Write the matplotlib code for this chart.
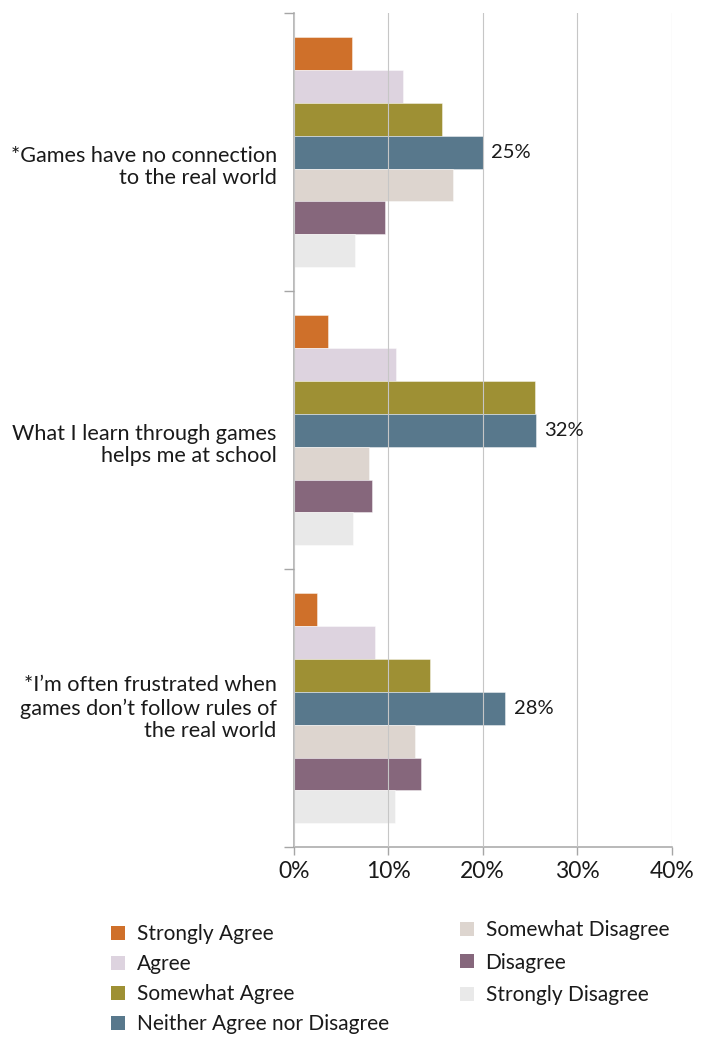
import numpy as np
import matplotlib
matplotlib.use("Agg")
import matplotlib.pyplot as plt
from matplotlib.patches import Patch

# ---- data -------------------------------------------------------------
statements = [
    "*Games have no connection\nto the real world",
    "What I learn through games\nhelps me at school",
    "*I\u2019m often frustrated when\ngames don\u2019t follow rules of\nthe real world",
]
series_names = [
    "Strongly Agree",
    "Agree",
    "Somewhat Agree",
    "Neither Agree nor Disagree",
    "Somewhat Disagree",
    "Disagree",
    "Strongly Disagree",
]
strongly_agree = [7.7, 4.6, 3.1]
agree = [14.4, 13.5, 10.8]
somewhat_agree = [19.6, 31.9, 18.0]
neither = [25, 32, 28]
somewhat_disagree = [21.1, 9.9, 16.1]
disagree = [12.1, 10.4, 16.9]
strongly_disagree = [8.1, 7.9, 13.4]
tick_values = [0, 10, 20, 30, 40]

series_values = [strongly_agree, agree, somewhat_agree, neither,
                 somewhat_disagree, disagree, strongly_disagree]
colors = ["#CF702A", "#DDD3DF", "#9E9034", "#58788C",
          "#DDD5CF", "#86677C", "#E9E9E9"]
labelled_series = 3  # the "Neither" bars carry value labels

# ---- style ------------------------------------------------------------
plt.rcParams["font.family"] = ["Lato", "DejaVu Sans"]
text_color = "#1a1a1a"
spine_color = "#a6a6a6"
grid_color = "#c6c6c6"

fig = plt.figure(figsize=(7.07, 10.38), dpi=100)
ax = fig.add_axes([0.4154, 0.1837, 0.5347, 0.8035])

n_series = len(series_values)
bar_h = 0.118
y_pos = np.arange(len(statements))
x_span = 50

for i, (vals, col) in enumerate(zip(series_values, colors)):
    ys = y_pos + (i - (n_series - 1) / 2) * bar_h
    bars = ax.barh(ys, vals, height=bar_h, color=col,
                   edgecolor=(1, 1, 1, 0.6), linewidth=0.5, zorder=1)
    if i == labelled_series:
        for rect, v in zip(bars, vals):
            ax.annotate(f"{v:g}%",
                        xy=(rect.get_width(), rect.get_y() + rect.get_height() / 2),
                        xytext=(6.3, 0), textcoords="offset points",
                        ha="left", va="center", fontsize=14.5,
                        color=text_color)

ax.set_xlim(0, x_span)
ax.set_ylim(len(statements) - 0.5, -0.5)

# x axis: evenly spaced ticks across the span
ax.set_xticks(np.linspace(0, x_span, len(tick_values)))
ax.set_xticklabels([f"{v}%" for v in tick_values], fontsize=16.5,
                   color=text_color)
ax.tick_params(axis="x", length=5.8, width=1.0, color=spine_color, pad=4)
ax.xaxis.grid(True, color=grid_color, linewidth=0.8)
ax.set_axisbelow(False)

# y axis: ticks mark the boundaries between statement groups
ax.set_yticks(np.arange(len(statements) + 1) - 0.5)
ax.set_yticklabels([])
ax.tick_params(axis="y", length=7.2, width=1.0, color=spine_color)

for side in ("top", "right"):
    ax.spines[side].set_visible(False)
for side in ("left", "bottom"):
    ax.spines[side].set_color(spine_color)
    ax.spines[side].set_linewidth(1.1)

# statement labels, right aligned next to the axis
line_nudge = {2: -10.5, 3: 0.0}
for y, text in zip(y_pos, statements):
    n_lines = text.count("\n") + 1
    ax.annotate(text, xy=(0, y), xycoords=("axes fraction", "data"),
                xytext=(-12.2, line_nudge[n_lines]), textcoords="offset points",
                ha="right", va="center", multialignment="right",
                fontsize=15.6, color=text_color, linespacing=1.17)

# legend in two columns
fs_leg = 15
handles = [Patch(facecolor=c, edgecolor="none") for c in colors]
common = dict(frameon=False, fontsize=fs_leg, handlelength=10 / fs_leg,
              handleheight=10 / fs_leg, handletextpad=8.4 / fs_leg,
              borderpad=0, borderaxespad=0,
              loc="upper left", labelcolor=text_color)
leg1 = fig.legend(handles[:4], series_names[:4],
                  bbox_to_anchor=(0.157, 0.1095), labelspacing=0.48, **common)
leg2 = fig.legend(handles[4:], series_names[4:],
                  bbox_to_anchor=(0.6506, 0.1135), labelspacing=0.6, **common)

fig.savefig("out.png", dpi=100)
